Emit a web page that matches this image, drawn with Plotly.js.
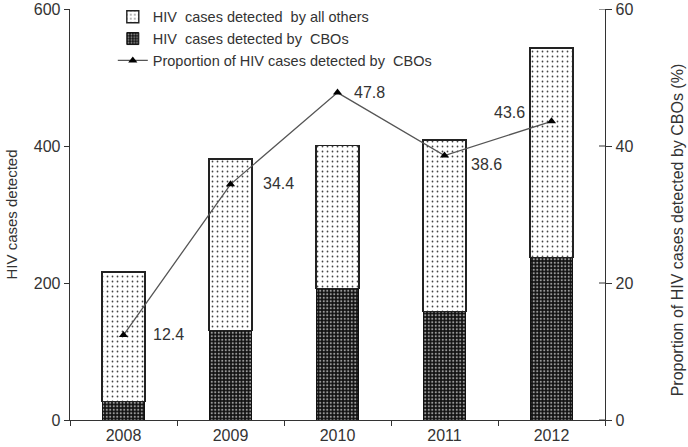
<!DOCTYPE html>
<html>
<head>
<meta charset="utf-8">
<script src="https://cdn.plot.ly/plotly-3.0.1.min.js"></script>
<style>html,body{margin:0;padding:0;background:#fff;}#chart{width:688px;height:447px;}</style>
</head>
<body>
<div id="chart"></div>
<script>
// ---- data ----
var years = ['2008', '2009', '2010', '2011', '2012'];
var cboCases = [27, 131, 192, 158, 237];
var otherCases = [189, 250, 209, 251, 306];
var proportionCBO = [12.4, 34.4, 47.8, 38.6, 43.6];
var proportionLabels = ['12.4', '34.4', '47.8', '38.6', '43.6'];
var leftTicks = [0, 200, 400, 600];
var rightTicks = [0, 20, 40, 60];

// ---- label placement (style only) ----
var labelOffsets = [
  {xs: 27, ys: 1, xa: 'left'},
  {xs: 30, ys: 1, xa: 'left'},
  {xs: 14, ys: 0, xa: 'left'},
  {xs: 24, ys: -9, xa: 'left'},
  {xs: -25, ys: 9, xa: 'right'}
];

var FONT = 'Liberation Sans, Arial, sans-serif';
var TXT = '#333';

var traceOthers = {
  type: 'bar', x: years, y: otherCases, name: 'HIV  cases detected  by all others',
  width: 0.4,
  marker: {color: '#ffffff', line: {color: '#222', width: 1.4},
    pattern: {shape: '.', bgcolor: '#ffffff', fgcolor: '#444', size: 5, solidity: 0.1}}
};
var traceCBO = {
  type: 'bar', x: years, y: cboCases, name: 'HIV  cases detected by  CBOs',
  width: 0.4,
  marker: {color: '#111', line: {color: '#111', width: 1},
    pattern: {shape: '.', bgcolor: '#111', fgcolor: '#9a9a9a', size: 3.5, solidity: 0.3}}
};
var traceProp = {
  type: 'scatter', mode: 'lines+markers', x: years, y: proportionCBO, yaxis: 'y2',
  name: 'Proportion of HIV cases detected by  CBOs',
  line: {color: '#555', width: 1.3},
  marker: {symbol: 'triangle-up', color: '#000', size: 8}
};

var annotations = proportionLabels.map(function (t, i) {
  return {
    x: i, y: proportionCBO[i], xref: 'x', yref: 'y2', text: t,
    showarrow: false, xanchor: labelOffsets[i].xa, yanchor: 'middle',
    xshift: labelOffsets[i].xs, yshift: labelOffsets[i].ys,
    font: {family: FONT, size: 16, color: TXT}
  };
});
// right-hand axis title
annotations.push({
  xref: 'paper', yref: 'paper', x: 1.135, y: 0.462, xanchor: 'center', yanchor: 'middle',
  text: 'Proportion of HIV cases detected by CBOs (%)', textangle: -90, showarrow: false,
  font: {family: FONT, size: 16, color: TXT}
});

// inward half of the cross ticks on the right axis
var shapes = rightTicks.map(function (v) {
  return {type: 'line', xref: 'paper', yref: 'y2', x0: 1, x1: 1 - 6 / 535, y0: v, y1: v,
    line: {color: '#333', width: 1}};
});

var layout = {
  width: 688, height: 447,
  margin: {l: 70, r: 83, t: 9, b: 27, autoexpand: false},
  paper_bgcolor: '#fff', plot_bgcolor: '#fff',
  barmode: 'stack',
  font: {family: FONT, size: 16, color: TXT},
  showlegend: true,
  legend: {x: 0.08, y: 1.02, xanchor: 'left', yanchor: 'top',
    bgcolor: 'rgba(0,0,0,0)', font: {family: FONT, size: 14.5, color: TXT},
    traceorder: 'reversed', tracegroupgap: 0, itemwidth: 30},
  xaxis: {type: 'category', categoryorder: 'array', categoryarray: years,
    range: [-0.5, 4.5], tickson: 'boundaries', ticks: 'outside', ticklen: 5,
    tickcolor: '#333', showline: true, linecolor: '#333', linewidth: 1.3,
    showgrid: false, zeroline: false, tickangle: 0,
    tickfont: {family: FONT, size: 16, color: TXT}},
  yaxis: {range: [0, 600], tickvals: leftTicks, ticks: 'outside', ticklen: 5,
    tickcolor: '#333', showline: true, linecolor: '#333', linewidth: 1.3,
    showgrid: false, zeroline: false,
    tickfont: {family: FONT, size: 16, color: TXT},
    title: {text: 'HIV cases detected', font: {family: FONT, size: 15, color: TXT}, standoff: 12}},
  yaxis2: {range: [0, 60], tickvals: rightTicks, overlaying: 'y', side: 'right',
    ticks: 'outside', ticklen: 6, tickcolor: '#333', showline: true, linecolor: '#333',
    linewidth: 1.3, showgrid: false, zeroline: false,
    tickfont: {family: FONT, size: 16, color: TXT}},
  annotations: annotations,
  shapes: shapes
};

Plotly.newPlot('chart', [traceProp, traceCBO, traceOthers], layout,
  {staticPlot: true, displayModeBar: false});
</script>
</body>
</html>
